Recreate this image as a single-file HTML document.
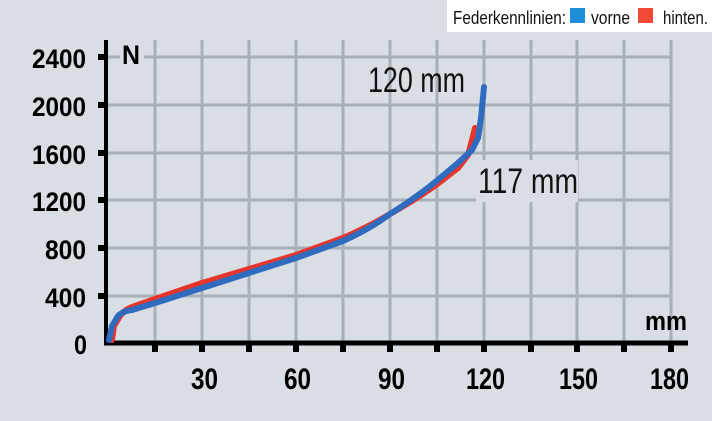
<!DOCTYPE html>
<html><head><style>
html,body{margin:0;padding:0;background:#d9dee4;}
svg{display:block}
</style></head><body>
<svg width="712" height="421" viewBox="0 0 712 421" xmlns="http://www.w3.org/2000/svg">
<rect width="712" height="421" fill="#d9dee4"/>
<g stroke="#a7afb9" stroke-width="3">
<line x1="155" y1="40" x2="155" y2="343"/><line x1="202" y1="40" x2="202" y2="343"/>
<line x1="249" y1="40" x2="249" y2="343"/><line x1="296" y1="40" x2="296" y2="343"/>
<line x1="343" y1="40" x2="343" y2="343"/><line x1="390" y1="40" x2="390" y2="343"/>
<line x1="437" y1="40" x2="437" y2="343"/><line x1="484" y1="40" x2="484" y2="343"/>
<line x1="531" y1="40" x2="531" y2="343"/><line x1="577" y1="40" x2="577" y2="343"/>
<line x1="624" y1="40" x2="624" y2="343"/><line x1="671" y1="40" x2="671" y2="343"/>
<line x1="106" y1="57" x2="672" y2="57"/><line x1="106" y1="105" x2="672" y2="105"/>
<line x1="106" y1="153" x2="672" y2="153"/><line x1="106" y1="200" x2="672" y2="200"/>
<line x1="106" y1="248" x2="672" y2="248"/><line x1="106" y1="296" x2="672" y2="296"/>
</g>
<rect x="476" y="160" width="102" height="42" fill="#d9dee4"/>
<rect x="120" y="40" width="24" height="30" fill="#d9dee4"/>
<g stroke="#000">
<line x1="106" y1="40" x2="106" y2="345" stroke-width="4"/>
<line x1="104" y1="343" x2="688" y2="343" stroke-width="5"/>
</g>
<g fill="#000">
<rect x="98" y="54" width="8" height="6"/><rect x="98" y="102" width="8" height="6"/>
<rect x="98" y="150" width="8" height="6"/><rect x="98" y="197" width="8" height="6"/>
<rect x="98" y="245" width="8" height="6"/><rect x="98" y="293" width="8" height="6"/>
<rect x="152" y="343" width="6" height="9"/><rect x="199" y="343" width="6" height="9"/>
<rect x="246" y="343" width="6" height="9"/><rect x="293" y="343" width="6" height="9"/>
<rect x="340" y="343" width="6" height="9"/><rect x="387" y="343" width="6" height="9"/>
<rect x="434" y="343" width="6" height="9"/><rect x="481" y="343" width="6" height="9"/>
<rect x="528" y="343" width="6" height="9"/><rect x="574" y="343" width="6" height="9"/>
<rect x="621" y="343" width="6" height="9"/><rect x="668" y="343" width="6" height="9"/>
</g>
<g fill="none" stroke-width="6" stroke-linejoin="round" stroke-linecap="round">
<path stroke="#e8352b" d="M112,340 L114,326 L120,316 Q125,309 135,306 L155,299 L202,283 L249,269 L296,255 L343,238 Q370,226 390,214 Q420,197 440,182 L458,168 L468,155 L472,140 L475,128"/>
<path stroke="#2f6cc0" d="M109,340 L112,326 L118,316 Q123,311 132,310 L155,303 L202,288 L249,273 L296,258 L343,241 Q370,229 390,214 Q420,195 440,178 L458,163 L472,150 L478,138 L481,118 L484,87"/>
</g>
<g font-family="'Liberation Sans',sans-serif" font-weight="bold" font-size="27" fill="#000">
<text x="32" y="68" textLength="54" lengthAdjust="spacingAndGlyphs">2400</text>
<text x="32" y="116" textLength="54" lengthAdjust="spacingAndGlyphs">2000</text>
<text x="32" y="164" textLength="54" lengthAdjust="spacingAndGlyphs">1600</text>
<text x="32" y="211" textLength="54" lengthAdjust="spacingAndGlyphs">1200</text>
<text x="45" y="259" textLength="41" lengthAdjust="spacingAndGlyphs">800</text>
<text x="45" y="307" textLength="41" lengthAdjust="spacingAndGlyphs">400</text>
<text x="74" y="354" textLength="13" lengthAdjust="spacingAndGlyphs">0</text>
</g>
<g font-family="'Liberation Sans',sans-serif" font-weight="bold" font-size="30" fill="#000">
<text x="191" y="389" textLength="27" lengthAdjust="spacingAndGlyphs">30</text>
<text x="284" y="389" textLength="27" lengthAdjust="spacingAndGlyphs">60</text>
<text x="378" y="389" textLength="27" lengthAdjust="spacingAndGlyphs">90</text>
<text x="466" y="389" textLength="39" lengthAdjust="spacingAndGlyphs">120</text>
<text x="559" y="389" textLength="39" lengthAdjust="spacingAndGlyphs">150</text>
<text x="650" y="389" textLength="39" lengthAdjust="spacingAndGlyphs">180</text>
</g>
<g font-family="'Liberation Sans',sans-serif" font-weight="bold" font-size="27" fill="#000">
<text x="122" y="64" textLength="18" lengthAdjust="spacingAndGlyphs">N</text>
<text x="645" y="330" textLength="42" lengthAdjust="spacingAndGlyphs">mm</text>
</g>
<g font-family="'Liberation Sans',sans-serif" font-size="35" fill="#111">
<text x="368" y="92" textLength="97" lengthAdjust="spacingAndGlyphs">120 mm</text>
<text x="478" y="193" textLength="100" lengthAdjust="spacingAndGlyphs">117 mm</text>
</g>
<rect x="447" y="0" width="265" height="32" fill="#fff"/>
<g font-family="'Liberation Sans',sans-serif" font-size="18" fill="#111">
<text x="453" y="24" textLength="113" lengthAdjust="spacingAndGlyphs">Federkennlinien:</text>
<rect x="570" y="8" width="15" height="15" fill="#1f8fdc"/>
<text x="591" y="24" textLength="39" lengthAdjust="spacingAndGlyphs">vorne</text>
<rect x="638" y="8" width="15" height="15" fill="#f04a37"/>
<text x="663" y="24" textLength="45" lengthAdjust="spacingAndGlyphs">hinten.</text>
</g>
</svg>
</body></html>
